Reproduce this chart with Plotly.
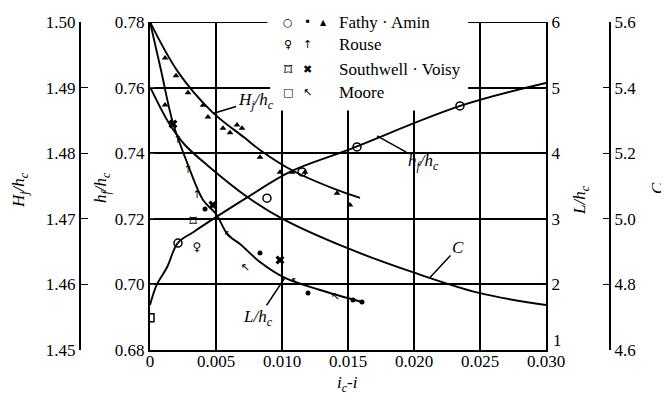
import plotly.graph_objects as go

# ---------------- data ----------------
x_ticks = [0, 0.005, 0.010, 0.015, 0.020, 0.025, 0.030]
x_ticklabels = ["0", "0.005", "0.010", "0.015", "0.020", "0.025", "0.030"]
hf_ticks = [0.68, 0.70, 0.72, 0.74, 0.76, 0.78]
Hj_ticks = [1.45, 1.46, 1.47, 1.48, 1.49, 1.50]
L_ticks = [2, 3, 4, 5, 6]          # the "1" label sits higher in the original, drawn separately
L_low_tick = 1
C_ticks = [4.6, 4.8, 5.0, 5.2, 5.4, 5.6]

# curve h_f/h_c
hf_x = [0, 0.0005, 0.0013, 0.0021, 0.0033, 0.005, 0.0074, 0.0106, 0.015, 0.0235, 0.030]
hf_y = [0.6937, 0.6998, 0.7053, 0.7126, 0.7160, 0.7205, 0.7266, 0.7343, 0.7410, 0.7544, 0.7614]
# curve H_j/h_c
Hj_x = [0, 0.00212, 0.00470, 0.00720, 0.00833, 0.01076, 0.01417, 0.01591]
Hj_y = [1.5, 1.4924, 1.4863, 1.4823, 1.4805, 1.4774, 1.4744, 1.4732]
# curve L/h_c
L_x = [0, 0.00083, 0.00174, 0.00288, 0.00402, 0.0050, 0.00591, 0.00682, 0.00833, 0.01023, 0.01288, 0.01606]
L_y = [6.0, 5.268, 4.460, 3.820, 3.287, 3.073, 2.753, 2.616, 2.341, 2.098, 1.915, 1.732]
# curve C
C_x = [0, 0.00076, 0.00152, 0.00265, 0.00432, 0.00735, 0.01008, 0.01492, 0.01985, 0.02492, 0.030]
C_y = [5.402, 5.341, 5.286, 5.225, 5.164, 5.067, 4.999, 4.911, 4.838, 4.774, 4.737]

# measured points
fathy_hf_x = [0.00212, 0.00886, 0.01152, 0.01568, 0.02348]
fathy_hf_y = [0.7126, 0.7263, 0.7343, 0.7419, 0.7544]
fathy_Hj_x = [0.00114, 0.00197, 0.00288, 0.00402, 0.00439, 0.00553, 0.00606, 0.00659, 0.00697,
              0.00833, 0.00985, 0.01076, 0.01174, 0.01417, 0.01515]
fathy_Hj_y = [1.4945, 1.4918, 1.4892, 1.4873, 1.4855, 1.4838, 1.4831, 1.4843, 1.4838,
              1.4794, 1.4771, 1.4771, 1.4771, 1.4739, 1.4721]
fathy_C_x = [0.00114]
fathy_C_y = [5.347]
fathy_L_x = [0, 0.00417, 0.00833, 0.01197, 0.01538, 0.01606]
fathy_L_y = [6.0, 3.149, 2.479, 1.869, 1.762, 1.732]
rouse_hf_x = [0.00356]
rouse_hf_y = [0.7129]
rouse_L_x = [0.00212, 0.00288, 0.00356]
rouse_L_y = [4.201, 3.744, 3.363]
south_hf_x = [0.00326]
south_hf_y = [0.7166]
south_L_x = [0.00174, 0.00477, 0.00985]
south_L_y = [4.445, 3.21, 2.372]
moore_hf_x = [0.0]
moore_hf_y = [0.6898]
moore_L_x = [0.00591, 0.00720, 0.01098, 0.01402]
moore_L_y = [2.753, 2.25, 2.037, 1.808]

legend_names = ["Fathy · Amin", "Rouse", "Southwell · Voisy", "Moore"]
legend_symbols = [["○", "•", "▲"], ["♀", "↑"], ["⌑", "✖"], ["□", "↖"]]

# ---------------- figure ----------------
# the page body adds an 8 px margin, so the figure is made 8 px smaller
OFF = 8
W, Hh = 669 - OFF, 407 - OFF
TOP_R, BOT_R = 22, 350          # plot top/bottom in the reference's pixels
L_R, R_R = 150, 546             # plot left/right in the reference's pixels
SERIF = "Liberation Serif, Times New Roman, serif"
SYM = "DejaVu Sans"


def pxx(px):
    return (px - OFF) / W


def pyy(py):
    return (BOT_R - py) / (BOT_R - TOP_R)


fig = go.Figure()
lw = 1.9
line = dict(color="black", width=lw, shape="spline")
fig.add_trace(go.Scatter(x=hf_x, y=hf_y, mode="lines", line=line, yaxis="y"))
fig.add_trace(go.Scatter(x=Hj_x, y=Hj_y, mode="lines", line=line, yaxis="y2"))
fig.add_trace(go.Scatter(x=L_x, y=L_y, mode="lines", line=line, yaxis="y3"))
fig.add_trace(go.Scatter(x=C_x, y=C_y, mode="lines", line=line, yaxis="y4"))

fig.add_trace(go.Scatter(x=fathy_hf_x, y=fathy_hf_y, mode="markers", yaxis="y",
                         marker=dict(symbol="circle-open", size=8, color="black", line=dict(width=1.5))))
fig.add_trace(go.Scatter(x=fathy_Hj_x, y=fathy_Hj_y, mode="markers", yaxis="y2",
                         marker=dict(symbol="triangle-up", size=6, color="black")))
fig.add_trace(go.Scatter(x=fathy_C_x, y=fathy_C_y, mode="markers", yaxis="y4",
                         marker=dict(symbol="triangle-up", size=6, color="black")))
fig.add_trace(go.Scatter(x=fathy_L_x, y=fathy_L_y, mode="markers", yaxis="y3",
                         marker=dict(symbol="circle", size=5, color="black")))
fig.add_trace(go.Scatter(x=rouse_hf_x, y=rouse_hf_y, mode="text", yaxis="y",
                         text=["♀"] * len(rouse_hf_x), textposition="bottom center",
                         textfont=dict(family=SYM, size=12, color="black")))
fig.add_trace(go.Scatter(x=rouse_L_x, y=rouse_L_y, mode="text", yaxis="y3",
                         text=["↑"] * len(rouse_L_x), textfont=dict(family=SYM, size=11, color="black")))
fig.add_trace(go.Scatter(x=south_hf_x, y=south_hf_y, mode="text", yaxis="y",
                         text=["⌑"] * len(south_hf_x), textposition="top center",
                         textfont=dict(family=SYM, size=15, color="black")))
fig.add_trace(go.Scatter(x=south_L_x, y=south_L_y, mode="markers", yaxis="y3",
                         marker=dict(symbol="x", size=8, color="black")))
fig.add_trace(go.Scatter(x=moore_hf_x, y=moore_hf_y, mode="markers", yaxis="y",
                         marker=dict(symbol="square-open", size=8, color="black", line=dict(width=1.5))))
fig.add_trace(go.Scatter(x=moore_L_x, y=moore_L_y, mode="text", yaxis="y3",
                         text=["↖"] * len(moore_L_x), textfont=dict(family=SYM, size=11, color="black")))

tickfont = dict(family=SERIF, size=17, color="black")
fig.update_layout(
    width=W, height=Hh,
    margin=dict(l=0, r=0, t=TOP_R - OFF, b=Hh - (BOT_R - OFF), autoexpand=False),
    plot_bgcolor="white", paper_bgcolor="white",
    showlegend=False,
    xaxis=dict(domain=[pxx(L_R), pxx(R_R)], range=[0, 0.030], tickvals=x_ticks, ticktext=x_ticklabels,
               showgrid=True, gridcolor="black", gridwidth=1.5, showline=True, linecolor="black",
               linewidth=2, ticks="", zeroline=False, tickfont=tickfont, anchor="y", automargin=False,
               ticklabelstandoff=-5),
    yaxis=dict(range=[0.68, 0.78], tickvals=hf_ticks, ticktext=["0.68", "0.70", "0.72", "0.74", "0.76", "0.78"],
               showgrid=True, gridcolor="black", gridwidth=1.5, showline=True, linecolor="black",
               linewidth=2, ticks="inside", ticklen=4, zeroline=False, tickfont=tickfont, anchor="x",
               automargin=False),
    yaxis2=dict(range=[1.45, 1.50], tickvals=Hj_ticks, ticktext=["1.45", "1.46", "1.47", "1.48", "1.49", "1.50"],
                overlaying="y", anchor="free", position=pxx(80), side="left", showgrid=False,
                showline=True, linecolor="black", linewidth=2, ticks="inside", ticklen=7,
                tickcolor="black", zeroline=False, tickfont=tickfont, automargin=False),
    yaxis3=dict(range=[1, 6], tickvals=L_ticks, overlaying="y", anchor="x", side="right", showgrid=False,
                showline=True, linecolor="black", linewidth=2, ticks="", zeroline=False, tickfont=tickfont,
                automargin=False),
    yaxis4=dict(range=[4.6, 5.6], tickvals=C_ticks, ticktext=["4.6", "4.8", "5.0", "5.2", "5.4", "5.6"],
                overlaying="y", anchor="free", position=pxx(610), side="right", showgrid=False,
                showline=True, linecolor="black", linewidth=2, ticks="inside", ticklen=6,
                tickcolor="black", zeroline=False, tickfont=tickfont, automargin=False),
)

# top frame (interrupted by legend) and white area behind the legend
fig.add_shape(type="line", xref="x", yref="y", x0=0, x1=0.0089, y0=0.78, y1=0.78,
              line=dict(color="black", width=2), layer="between")
fig.add_shape(type="line", xref="x", yref="y", x0=0.0240, x1=0.030, y0=0.78, y1=0.78,
              line=dict(color="black", width=2), layer="between")
fig.add_shape(type="rect", xref="x", yref="y", x0=0.0091, x1=0.0241, y0=0.753, y1=0.785,
              fillcolor="white", line=dict(width=0), layer="between")

ann = []
# legend
rows_py = [22, 45, 69, 93]
cols_px = [288, 307, 323]
for r, (name, syms) in enumerate(zip(legend_names, legend_symbols)):
    for c, s in enumerate(syms):
        size = {"▲": 8, "•": 12, "⌑": 16}.get(s, 11)
        ann.append(dict(x=pxx(cols_px[c]), y=pyy(rows_py[r]), xref="paper", yref="paper", text=s,
                        xanchor="center", yanchor="middle",
                        showarrow=False, font=dict(family=SYM, size=size, color="black")))
    ann.append(dict(x=pxx(337), y=pyy(rows_py[r]), xref="paper", yref="paper", text=name,
                    xanchor="left", yanchor="middle",
                    showarrow=False, font=dict(family=SERIF, size=17, color="black")))

# the lowest L/h_c tick label, raised above the x tick labels as in the original
ann.append(dict(x=pxx(551), y=pyy(340), xref="paper", yref="paper", text=str(L_low_tick),
                xanchor="left", yanchor="middle", showarrow=False, font=tickfont))

# curve labels with leaders
labfont = dict(family=SERIF, size=17, color="black")
curve_labels = [
    ("<i>H<sub>j</sub>/h<sub>c</sub></i>", 0.00477, 0.7521, 0.0080, 0.7560),
    ("<i>h<sub>f</sub>/h<sub>c</sub></i>", 0.0172, 0.7453, 0.0207, 0.7374),
    ("<i>L/h<sub>c</sub></i>", 0.01023, 0.7021, 0.0082, 0.6898),
    ("<i>C</i>", 0.02121, 0.7021, 0.02333, 0.7113),
]
for t, xh, yh, xt, yt in curve_labels:
    ann.append(dict(x=xh, y=yh, xref="x", yref="y", ax=xt, ay=yt, axref="x", ayref="y", text=t,
                    showarrow=True, arrowhead=0, arrowwidth=1.5, arrowcolor="black", font=labfont))

# axis titles
titles = [
    ("<i>H<sub>j</sub>/h<sub>c</sub></i>", 20, 190, -90),
    ("<i>h<sub>f</sub>/h<sub>c</sub></i>", 102, 188, -90),
    ("<i>L/h<sub>c</sub></i>", 581, 200, -90),
    ("<i>C</i>", 657, 188, -90),
    ("<i>i<sub>c</sub>-i</i>", 347, 384, 0),
]
for t, px, py, ang in titles:
    ann.append(dict(x=pxx(px), y=pyy(py), xref="paper", yref="paper", text=t, textangle=ang,
                    xanchor="center", yanchor="middle",
                    showarrow=False, font=dict(family=SERIF, size=17, color="black")))

fig.update_layout(annotations=ann)
fig.write_html("out.html")
